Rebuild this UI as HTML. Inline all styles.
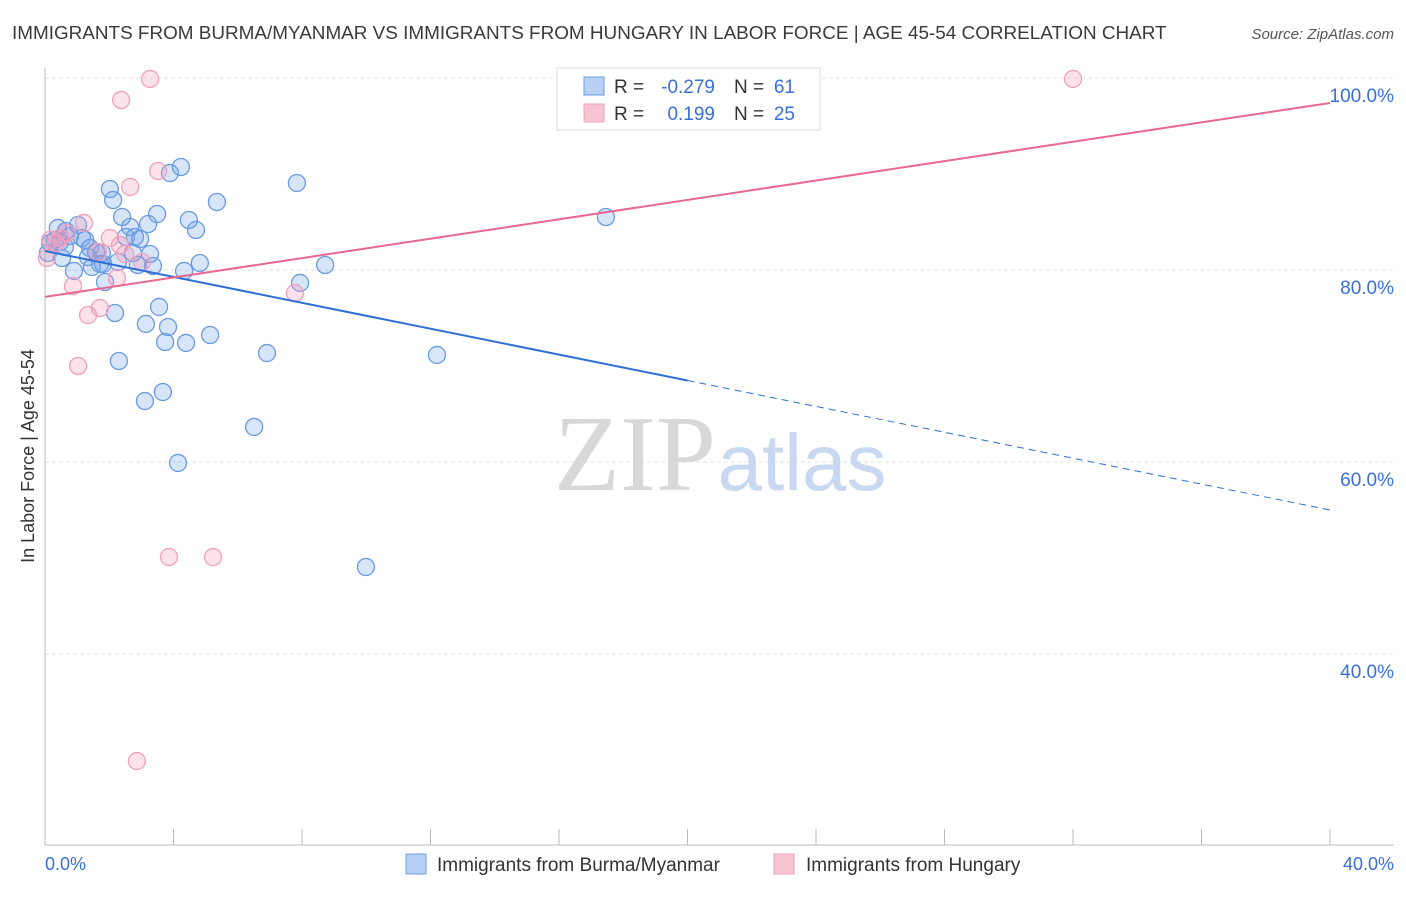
<!DOCTYPE html>
<html><head><meta charset="utf-8"><style>
body{margin:0;background:#fff;font-family:"Liberation Sans",sans-serif;}
</style></head><body>
<svg width="1406" height="892" xmlns="http://www.w3.org/2000/svg">
<text x="12" y="39" font-size="18.9" fill="#3a3a3a">IMMIGRANTS FROM BURMA/MYANMAR VS IMMIGRANTS FROM HUNGARY IN LABOR FORCE | AGE 45-54 CORRELATION CHART</text>
<text x="1394" y="39" font-size="15" fill="#555" font-style="italic" text-anchor="end">Source: ZipAtlas.com</text>
<g id="grid"></g>
<text x="635" y="490" font-size="108" fill="#d8d8d8" font-family="Liberation Serif,serif" text-anchor="middle">ZIP</text>
<text x="802" y="490" font-size="80" fill="#c8d8f0" text-anchor="middle">atlas</text>
<line x1="45" y1="68" x2="45" y2="845" stroke="#bbb"/>
<line x1="45" y1="845" x2="1394" y2="845" stroke="#bbb"/>
<g id="xticks"></g>
<g id="ylabels"></g>
<text x="45" y="870" font-size="18" fill="#3a6fd8">0.0%</text>
<text x="1394" y="870" font-size="18" fill="#3a6fd8" text-anchor="end">40.0%</text>
<text transform="translate(34,456) rotate(-90)" font-size="18" fill="#333" text-anchor="middle">In Labor Force | Age 45-54</text>
<g id="pts-blue"></g>
<g id="pts-pink"></g>
<g id="lines"></g>
<g>
<rect x="557" y="68" width="263" height="62" fill="#fff" stroke="#ddd"/>
<rect x="584" y="77" width="20" height="18" fill="#b8d0f4" stroke="#6a9be0"/>
<rect x="584" y="104" width="20" height="18" fill="#f8c4d4" stroke="#f0a0bc"/>
<text x="614" y="93" font-size="19" fill="#333">R =</text>
<text x="715" y="93" font-size="19" fill="#3a6fd8" text-anchor="end">-0.279</text>
<text x="734" y="93" font-size="19" fill="#333">N =</text>
<text x="795" y="93" font-size="19" fill="#3a6fd8" text-anchor="end">61</text>
<text x="614" y="120" font-size="19" fill="#333">R =</text>
<text x="715" y="120" font-size="19" fill="#3a6fd8" text-anchor="end">0.199</text>
<text x="734" y="120" font-size="19" fill="#333">N =</text>
<text x="795" y="120" font-size="19" fill="#3a6fd8" text-anchor="end">25</text>
</g>
<rect x="406" y="854" width="20" height="20" fill="#b8d0f4" stroke="#6a9be0"/>
<text x="437" y="871" font-size="19" fill="#333">Immigrants from Burma/Myanmar</text>
<rect x="774" y="854" width="20" height="20" fill="#f8c4d4" stroke="#f0a0bc"/>
<text x="806" y="871" font-size="19" fill="#333">Immigrants from Hungary</text>
</svg>
<script>
const blueX=[0.16,0.31,0.40,0.53,0.65,0.78,0.90,1.03,1.15,1.25,1.34,1.46,1.59,1.71,1.81,1.87,2.02,2.12,2.18,2.30,2.40,2.52,2.65,2.74,2.80,2.89,3.11,3.14,3.21,3.27,3.36,3.49,3.55,3.67,3.74,3.83,3.89,4.14,4.23,4.33,4.39,4.48,4.70,4.82,5.14,5.35,6.51,6.91,7.84,7.94,8.72,9.99,12.20,17.46,0.09,0.62,1.40,1.77,2.27,2.96,0.47];
const blueY=[82.81,83.13,84.38,81.25,84.06,83.54,79.90,84.69,83.33,83.13,81.35,80.31,81.88,80.63,80.63,78.75,88.44,87.29,75.52,70.52,85.52,83.44,84.48,81.77,83.44,80.52,66.35,74.38,84.79,81.67,80.42,85.83,76.15,67.29,72.50,74.06,90.10,59.90,90.73,79.90,72.40,85.21,84.17,80.73,73.23,87.08,63.65,71.35,89.06,78.65,80.52,49.06,71.15,85.52,81.77,82.40,82.29,81.77,80.83,83.23,82.92];
const pinkX=[0.16,0.47,0.68,0.87,1.03,1.21,1.34,1.65,1.71,2.02,2.24,2.37,2.49,2.65,2.86,3.02,3.27,3.52,3.86,5.23,7.78,32.0,0.06,0.34,2.33];
const pinkY=[83.13,83.33,83.85,78.33,70.0,84.90,75.31,81.88,76.04,83.33,79.17,97.71,81.67,88.65,28.85,80.83,99.9,90.31,50.1,50.1,77.6,99.9,81.25,82.81,82.6];
const blueTrend=[81.98,55.0], pinkTrend=[77.2,97.4], blueSolidEnd=20;
const yTicks=[100,80,60,40];
const yTickLabels=["100.0%","80.0%","60.0%","40.0%"];
const xTicks=[4,8,12,16,20,24,28,32,36,40];
const NS="http://www.w3.org/2000/svg";
const X=v=>45+v*32.125, Y=v=>270-(v-80)*9.6;
function mk(t,a,p){const e=document.createElementNS(NS,t);for(const k in a)e.setAttribute(k,a[k]);p.appendChild(e);return e;}
const grid=document.getElementById('grid'),yl=document.getElementById('ylabels'),xt=document.getElementById('xticks');
yTicks.forEach((v,i)=>{
const l=mk('line',{x1:45,x2:1394,y1:Y(v),y2:Y(v),stroke:'#e2e2e2','stroke-dasharray':'4,3'},grid);


const t=mk('text',{x:1394,y:Y(v)+24,'font-size':19,fill:'#3a6fd8','text-anchor':'end'},yl);
t.textContent=yTickLabels[i];


});
xTicks.forEach(v=>{
const l=mk('line',{x1:X(v),x2:X(v),y1:829,y2:845,stroke:'#bbb'},xt);


});
function pts(xs,ys,g,fill,stroke,name){xs.forEach((x,i)=>{
const c=mk('circle',{cx:X(x),cy:Y(ys[i]),r:8.5,fill:fill,stroke:stroke,'stroke-width':1.3},g);


});}
pts(blueX,blueY,document.getElementById('pts-blue'),'rgba(110,160,235,0.28)','#6a9be0','burma-point');
pts(pinkX,pinkY,document.getElementById('pts-pink'),'rgba(245,150,180,0.28)','#f0a0bc','hungary-point');
const lg=document.getElementById('lines');
const by=x=>blueTrend[0]+(blueTrend[1]-blueTrend[0])*x/40;
const l1=mk('line',{x1:X(0),y1:Y(by(0)),x2:X(blueSolidEnd),y2:Y(by(blueSolidEnd)),stroke:'#2f6fd6','stroke-width':2},lg);


const l2=mk('line',{x1:X(blueSolidEnd),y1:Y(by(blueSolidEnd)),x2:X(40),y2:Y(by(40)),stroke:'#2f6fd6','stroke-width':1,'stroke-dasharray':'7,5'},lg);


const l3=mk('line',{x1:X(0),y1:Y(pinkTrend[0]),x2:X(40),y2:Y(pinkTrend[1]),stroke:'#e8688f','stroke-width':2},lg);


</script>
</body></html>
